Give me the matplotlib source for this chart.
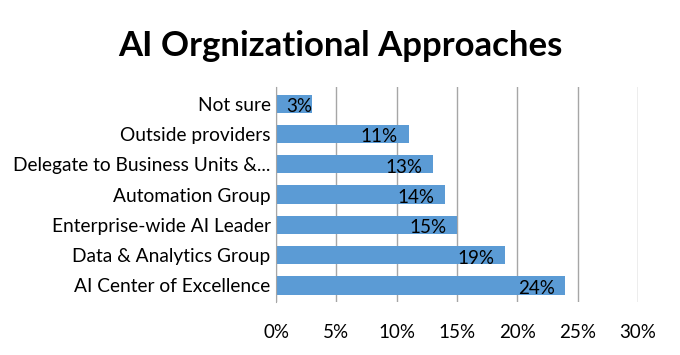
import matplotlib
matplotlib.use("Agg")
import matplotlib.pyplot as plt
from matplotlib.ticker import FuncFormatter

plt.rcParams['font.family'] = ['Lato', 'DejaVu Sans']

# data (top to bottom as shown)
categories = [
    'Not sure',
    'Outside providers',
    'Delegate to Business Units &...',
    'Automation Group',
    'Enterprise-wide AI Leader',
    'Data & Analytics Group',
    'AI Center of Excellence',
]
values = [3, 11, 13, 14, 15, 19, 24]
x_ticks = [0, 5, 10, 15, 20, 25, 30]

BAR = '#5B9BD5'
GRID = '#A6A6A6'

fig = plt.figure(figsize=(6.8, 3.55), dpi=100)
ax = fig.add_axes([0.406, 0.149, 0.532, 0.606])

ypos = list(range(len(categories)))[::-1]
ax.barh(ypos, values, height=0.6, color=BAR, zorder=2)

# inside-end labels; short bars get the label flush with the bar end
for y, v in zip(ypos, values):
    lx = v - 0.9 if v > 5 else v
    ax.text(lx, y - 0.1, f'{v}%', ha='right', va='center',
            fontsize=13.5, color='black', zorder=3)

ax.set_xlim(0, 30)
ax.set_ylim(-0.55, len(categories) - 0.45)
ax.set_xticks(x_ticks)
ax.xaxis.set_major_formatter(FuncFormatter(lambda v, p: f'{int(v)}%'))
ax.set_yticks(ypos)
ax.set_yticklabels(categories)
ax.tick_params(axis='x', length=0, pad=16, labelsize=13.5)
ax.tick_params(axis='y', length=0, pad=4, labelsize=13.8)

ax.grid(axis='x', color=GRID, linewidth=1.0, zorder=0)
for s in ['top', 'right', 'bottom']:
    ax.spines[s].set_visible(False)
ax.spines['left'].set_color(GRID)
ax.spines['left'].set_zorder(3)

fig.text(0.5, 0.87, 'AI Orgnizational Approaches', ha='center', va='center',
         fontsize=25, fontweight='bold')

fig.savefig('out.png', dpi=100)
